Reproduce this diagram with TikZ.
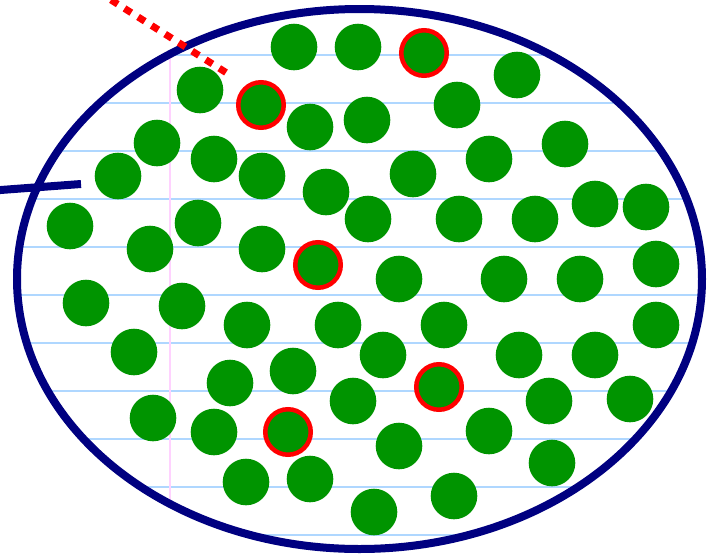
\documentclass[tikz,border=0pt]{standalone}
\usetikzlibrary{shapes.geometric}
\definecolor{dotgreen}{RGB}{0,148,0}
\definecolor{rimnavy}{RGB}{0,0,128}
\definecolor{rulingblue}{RGB}{175,215,255}
\definecolor{marginpink}{RGB}{255,210,255}
\begin{document}
\begin{tikzpicture}[x=1pt,y=-1pt,
  dot/.style={circle,fill=dotgreen,minimum size=46.6pt,inner sep=0pt,outer sep=0pt},
  reddot/.style={circle,fill=dotgreen,draw=red,line width=4.5pt,minimum size=45.5pt,inner sep=0pt,outer sep=0pt},
  ruling/.style={rulingblue,line width=2.5pt},
  rim/.style={rimnavy,line width=8pt},
  reddash/.style={red,line width=7pt,dash pattern=on 8pt off 8pt}]
\useasboundingbox (0,0) rectangle (713,555);
\begin{scope}
  \clip (359.5,279) ellipse [x radius=342.5, y radius=270];
  \foreach \k in {0,...,10}{
    \draw[ruling] (0,55+48*\k) -- (713,55+48*\k);
  }
  \draw[marginpink,line width=2pt] (170,0) -- (170,555);
\end{scope}
\foreach \n/\x/\y in {1/294/47,2/358/47,4/517/75,5/200/90,7/310/127,8/367/120,9/457/105,
  10/157/143,11/214/159,12/118/176,13/262/176,14/326/192,15/413/174,16/489/159,17/565/144,
  18/70/226,19/198/223,20/150/249,21/262/249,22/368/219,23/459/219,24/535/219,25/595/204,
  26/646/207,28/399/279,29/504/279,30/580/279,31/656/264,32/86/303,33/182/306,34/247/325,
  35/338/325,36/444/325,37/656/325,38/134/352,39/383/355,40/519/355,41/595/355,42/230/383,
  43/293/371,45/353/401,46/549/401,47/630/399,48/153/418,49/214/432,51/399/446,52/489/431,
  53/552/463,54/246/482,55/310/479,56/454/496,57/374/512}{
  \node[dot] (c\n) at (\x,\y) {};
}
\foreach \n/\x/\y in {3/424/53,6/261/105,27/318/265,44/439/387,50/288/432}{
  \node[reddot] (c\n) at (\x,\y) {};
}
\node[draw=rimnavy,line width=8pt,ellipse,minimum width=685pt,minimum height=540pt,inner sep=0pt] (rimshape) at (359.5,279) {};
\coordinate (redin) at (226,72.5);
\coordinate (redout) at (50,-38.6);
\draw[reddash] (redin) -- (redout);
\coordinate (navyout) at (-6,190.5);
\coordinate (navyin) at (81,184);
\draw[rim] (navyout) -- (navyin);
\end{tikzpicture}
\end{document}
